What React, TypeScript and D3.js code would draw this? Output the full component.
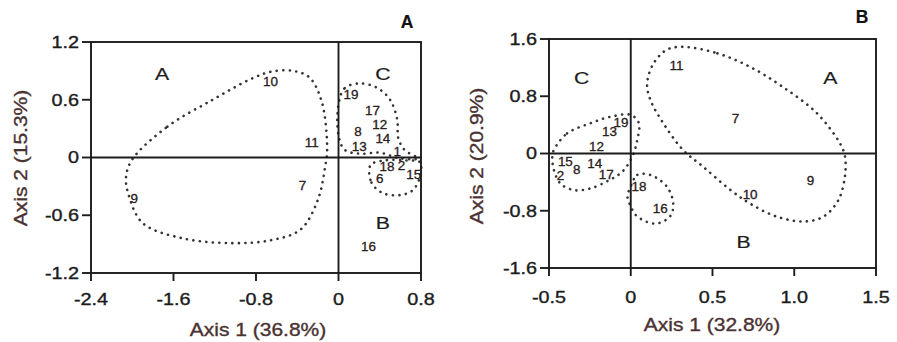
import React from "react";
import * as d3 from "d3";

// ---- Ordination A ----
const axisTitleA = { x: "Axis 1 (36.8%)", y: "Axis 2 (15.3%)" };
const xTicksA = [-2.4, -1.6, -0.8, 0, 0.8];
const yTicksA = [-1.2, -0.6, 0, 0.6, 1.2];
const sitesA = [
  { id: "10", x: -0.66, y: 0.79 },
  { id: "11", x: -0.26, y: 0.15 },
  { id: "7", x: -0.35, y: -0.29 },
  { id: "9", x: -1.98, y: -0.43 },
  { id: "19", x: 0.12, y: 0.65 },
  { id: "17", x: 0.33, y: 0.49 },
  { id: "12", x: 0.4, y: 0.34 },
  { id: "8", x: 0.19, y: 0.27 },
  { id: "14", x: 0.43, y: 0.2 },
  { id: "13", x: 0.2, y: 0.11 },
  { id: "1", x: 0.57, y: 0.06 },
  { id: "18", x: 0.47, y: -0.1 },
  { id: "2", x: 0.61, y: -0.08 },
  { id: "6", x: 0.4, y: -0.22 },
  { id: "15", x: 0.73, y: -0.18 },
  { id: "16", x: 0.29, y: -0.93 },
];
const groupsA = [
  { id: "A", x: -1.71, y: 0.87 },
  { id: "C", x: 0.43, y: 0.87 },
  { id: "B", x: 0.43, y: -0.68 },
];
const hullA1: [number, number][] = [
  [-2.0, -0.02], [-1.66, 0.32], [-1.22, 0.6], [-0.86, 0.81], [-0.66, 0.89],
  [-0.44, 0.9], [-0.28, 0.83], [-0.16, 0.57], [-0.11, 0.08], [-0.13, -0.1],
  [-0.2, -0.44], [-0.37, -0.75], [-0.66, -0.86], [-1.02, -0.89], [-1.51, -0.84],
  [-1.9, -0.68], [-2.04, -0.37], [-2.06, -0.2],
];
const hullA2: [number, number][] = [
  [0.0, 0.55], [0.06, 0.72], [0.21, 0.77], [0.38, 0.72], [0.5, 0.6],
  [0.57, 0.39], [0.58, 0.2], [0.64, 0.08], [0.77, -0.01], [0.6, -0.01],
  [0.4, 0.05], [0.21, 0.04], [0.06, 0.08], [0.0, 0.23],
];
const hullA3: [number, number][] = [
  [0.31, -0.08], [0.32, -0.26], [0.43, -0.37], [0.6, -0.39], [0.72, -0.34],
  [0.79, -0.2], [0.79, -0.05], [0.65, -0.03], [0.45, -0.03],
];

// ---- Ordination B ----
const axisTitleB = { x: "Axis 1 (32.8%)", y: "Axis 2 (20.9%)" };
const xTicksB = [-0.5, 0, 0.5, 1.0, 1.5];
const xTickLabelsB = ["-0.5", "0", "0.5", "1.0", "1.5"];
const yTicksB = [-1.6, -0.8, 0, 0.8, 1.6];
const sitesB = [
  { id: "11", x: 0.28, y: 1.23 },
  { id: "7", x: 0.64, y: 0.48 },
  { id: "9", x: 1.1, y: -0.38 },
  { id: "10", x: 0.73, y: -0.57 },
  { id: "16", x: 0.18, y: -0.77 },
  { id: "18", x: 0.05, y: -0.47 },
  { id: "19", x: -0.06, y: 0.43 },
  { id: "13", x: -0.13, y: 0.31 },
  { id: "12", x: -0.21, y: 0.1 },
  { id: "14", x: -0.22, y: -0.14 },
  { id: "17", x: -0.15, y: -0.29 },
  { id: "15", x: -0.4, y: -0.12 },
  { id: "8", x: -0.33, y: -0.22 },
  { id: "2", x: -0.43, y: -0.31 },
];
const groupsB = [
  { id: "C", x: -0.3, y: 1.06 },
  { id: "A", x: 1.22, y: 1.05 },
  { id: "B", x: 0.69, y: -1.24 },
];
const hullB1: [number, number][] = [
  [0.32, 1.49], [0.53, 1.4], [0.73, 1.21], [0.93, 0.93], [1.14, 0.56],
  [1.28, 0.14], [1.31, -0.04], [1.31, -0.32], [1.27, -0.65], [1.18, -0.88],
  [1.06, -0.95], [0.89, -0.88], [0.73, -0.7], [0.61, -0.51], [0.44, -0.18],
  [0.32, 0.05], [0.2, 0.42], [0.12, 0.75], [0.1, 0.98], [0.14, 1.26], [0.22, 1.45],
];
const hullB2: [number, number][] = [
  [-0.47, 0.05], [-0.39, 0.28], [-0.25, 0.42], [-0.13, 0.51], [0.0, 0.54],
  [0.05, 0.42], [0.04, 0.19], [0.01, -0.04], [-0.05, -0.25], [-0.13, -0.37],
  [-0.25, -0.49], [-0.35, -0.51], [-0.43, -0.42], [-0.47, -0.23], [-0.48, -0.04],
];
const hullB3: [number, number][] = [
  [0.0, -0.46], [0.04, -0.3], [0.12, -0.3], [0.22, -0.46], [0.26, -0.7],
  [0.24, -0.88], [0.15, -0.98], [0.04, -0.88], [0.0, -0.74], [-0.02, -0.6],
];

const FONT = "Arial, 'Liberation Sans', sans-serif";
const INK = "#1c1c1c";
const TITLE_INK = "#4a3232";

type Site = { id: string; x: number; y: number };

// Text drawn with a wider set width along its own direction.
function Label(props: {
  x: number; y: number; size: number; anchor?: "start" | "middle" | "end";
  stretch?: number; rotate?: number; fill?: string; weight?: string;
  dy?: string; halo?: number; children: React.ReactNode;
}) {
  const { x, y, size, anchor = "middle", stretch = 1.2, rotate = 0,
    fill = INK, weight = "normal", dy, halo = 0.35 } = props;
  return (
    <text transform={`translate(${x},${y}) rotate(${rotate}) scale(${stretch},1)`}
      fontFamily={FONT} fontSize={size} fontWeight={weight} textAnchor={anchor}
      dy={dy} fill={fill} stroke={fill} strokeWidth={halo}>
      {props.children}
    </text>
  );
}

interface PanelProps {
  tag: string;
  tagPos: [number, number];
  box: { left: number; right: number; top: number; bottom: number };
  xDomain: [number, number];
  yDomain: [number, number];
  xTicks: number[];
  xTickLabels?: string[];
  xLabelOffset: number;
  yTicks: number[];
  titles: { x: string; y: string };
  xTitlePos: [number, number];
  yTitlePos: [number, number];
  sites: Site[];
  groups: Site[];
  hulls: [number, number][][];
}

function Panel(p: PanelProps) {
  const x = d3.scaleLinear().domain(p.xDomain).range([p.box.left, p.box.right]);
  const y = d3.scaleLinear().domain(p.yDomain).range([p.box.bottom, p.box.top]);
  const hullPath = d3
    .line<[number, number]>()
    .x((d) => x(d[0]))
    .y((d) => y(d[1]))
    .curve(d3.curveCatmullRomClosed.alpha(0.5));
  const fmt = (v: number) => (v === 0 ? "0" : String(v));
  const sw = 1.9;

  return (
    <g>
      <Label x={p.tagPos[0]} y={p.tagPos[1]} size={17.5} weight="bold"
        stretch={1.0} fill="#111" halo={0.2}>{p.tag}</Label>

      {/* dotted group outlines */}
      {p.hulls.map((h, i) => (
        <path key={i} d={hullPath(h) ?? ""} fill="none" stroke="#333"
          strokeWidth={2.6} strokeLinecap="round" strokeDasharray="0.1 6.4" />
      ))}

      {/* frame and zero lines */}
      <rect x={p.box.left} y={p.box.top} width={p.box.right - p.box.left}
        height={p.box.bottom - p.box.top} fill="none" stroke={INK} strokeWidth={sw} />
      <line x1={x(0)} x2={x(0)} y1={p.box.top} y2={p.box.bottom} stroke={INK} strokeWidth={sw} />
      <line x1={p.box.left} x2={p.box.right} y1={y(0)} y2={y(0)} stroke={INK} strokeWidth={sw} />

      {/* x axis */}
      {p.xTicks.map((t, i) => (
        <g key={"xt" + i}>
          <line x1={x(t)} x2={x(t)} y1={p.box.bottom} y2={p.box.bottom + 8}
            stroke={INK} strokeWidth={sw} />
          <Label x={x(t)} y={p.box.bottom + p.xLabelOffset} size={16.5}>
            {p.xTickLabels ? p.xTickLabels[i] : fmt(t)}
          </Label>
        </g>
      ))}
      {/* y axis */}
      {p.yTicks.map((t, i) => (
        <g key={"yt" + i}>
          <line x1={p.box.left - 9} x2={p.box.left} y1={y(t)} y2={y(t)}
            stroke={INK} strokeWidth={sw} />
          <Label x={p.box.left - 12} y={y(t)} dy="0.36em" size={16.5} anchor="end">
            {fmt(t)}
          </Label>
        </g>
      ))}

      <Label x={p.xTitlePos[0]} y={p.xTitlePos[1]} size={17.5} fill={TITLE_INK}>
        {p.titles.x}
      </Label>
      <Label x={p.yTitlePos[0]} y={p.yTitlePos[1]} size={17.5} rotate={-90} fill={TITLE_INK}>
        {p.titles.y}
      </Label>

      {/* group letters */}
      {p.groups.map((g) => (
        <Label key={"g" + g.id} x={x(g.x)} y={y(g.y)} dy="0.36em" size={17}
          stretch={1.25} halo={0.2}>{g.id}</Label>
      ))}

      {/* site numbers */}
      {p.sites.map((s) => (
        <Label key={"s" + s.id} x={x(s.x)} y={y(s.y)} dy="0.36em" size={12}
          stretch={1.12} fill="#2a2020" halo={0.3}>{s.id}</Label>
      ))}
    </g>
  );
}

export default function App() {
  return (
    <svg width={897} height={342}
      style={{ display: "block", position: "absolute", left: 0, top: 0, background: "#fff" }}>
      <rect width={897} height={342} fill="#fff" />
      <Panel
        tag="A"
        tagPos={[407, 28]}
        box={{ left: 91, right: 421, top: 42, bottom: 273 }}
        xDomain={[-2.4, 0.8]}
        yDomain={[-1.2, 1.2]}
        xTicks={xTicksA}
        xLabelOffset={32}
        yTicks={yTicksA}
        titles={axisTitleA}
        xTitlePos={[258, 336]}
        yTitlePos={[27, 158]}
        sites={sitesA}
        groups={groupsA}
        hulls={[hullA1, hullA2, hullA3]}
      />
      <Panel
        tag="B"
        tagPos={[862, 23]}
        box={{ left: 549, right: 876, top: 39, bottom: 268 }}
        xDomain={[-0.5, 1.5]}
        yDomain={[-1.6, 1.6]}
        xTicks={xTicksB}
        xTickLabels={xTickLabelsB}
        xLabelOffset={35}
        yTicks={yTicksB}
        titles={axisTitleB}
        xTitlePos={[712, 331]}
        yTitlePos={[483, 156]}
        sites={sitesB}
        groups={groupsB}
        hulls={[hullB1, hullB2, hullB3]}
      />
    </svg>
  );
}
